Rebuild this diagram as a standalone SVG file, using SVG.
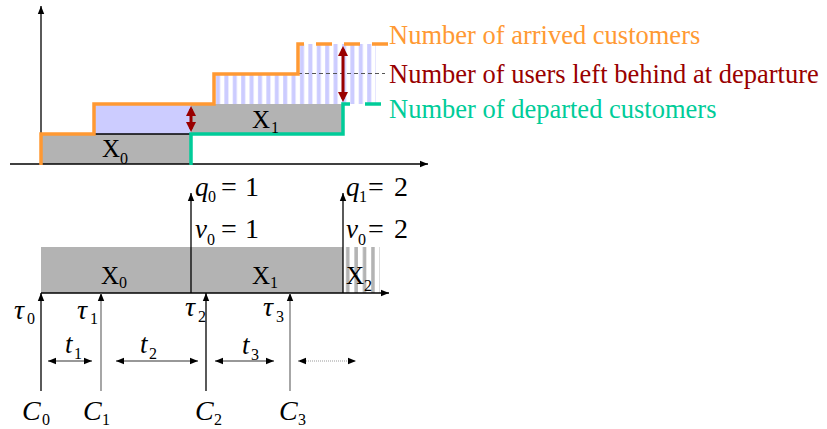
<svg xmlns="http://www.w3.org/2000/svg" width="827" height="429" viewBox="0 0 827 429">
<style>
text{font-family:"Liberation Serif","Times New Roman",serif;font-size:25px;fill:#000}
.lbl{font-size:26.5px}
.it{font-style:italic;font-size:27px}
.tau{font-style:italic;font-size:28px}
.num{font-size:28px}
.sub{font-size:16px}
.big{font-size:28px}
.ax{stroke:#000;stroke-width:1.3;fill:none}
.gray{fill:#b3b3b3}
.or{stroke:#ff9933;stroke-width:3.5;fill:none}
.gr{stroke:#00cc99;stroke-width:3.5;fill:none}
.red{stroke:#990000;stroke-width:3;fill:none}
</style>
<defs>
<marker id="ah" viewBox="0 0 10 10" refX="10" refY="5" markerWidth="8" markerHeight="8" markerUnits="userSpaceOnUse" orient="auto-start-reverse"><path d="M0,1 L10,5 L0,9 z" fill="#000"/></marker>
<marker id="rh" viewBox="0 0 10 10" refX="7" refY="5" markerWidth="10" markerHeight="11" markerUnits="userSpaceOnUse" orient="auto-start-reverse"><path d="M0,0 L10,5 L0,10 z" fill="#990000"/></marker>
<pattern id="blueStripe" patternUnits="userSpaceOnUse" x="214" y="0" width="8.4" height="10"><rect x="2" y="0" width="4" height="10" fill="#ccccff"/></pattern>
<pattern id="grayStripe" patternUnits="userSpaceOnUse" x="343" y="0" width="8.4" height="10"><rect x="3" y="0" width="3.5" height="10" fill="#b3b3b3"/></pattern>
</defs>

<g id="top-chart">
<rect x="94" y="104" width="97" height="30" fill="#ccccff"/>
<rect x="214" y="74" width="84" height="30" fill="url(#blueStripe)"/>
<rect x="298" y="44" width="78" height="60" fill="url(#blueStripe)"/>
<rect class="gray" x="41" y="134" width="150" height="30"/>
<rect class="gray" x="191" y="104" width="152" height="30"/>
<line x1="94" y1="134" x2="191" y2="134" stroke="#000" stroke-width="1.3"/>
<line x1="298" y1="73.5" x2="385" y2="73.5" stroke="#555" stroke-width="1" stroke-dasharray="4 3"/>
</g>

<g id="connectors">
<line class="ax" x1="41" y1="164" x2="41" y2="6" marker-end="url(#ah)"/>
<line class="ax" x1="10" y1="164" x2="428" y2="164" marker-end="url(#ah)"/>
<path class="or" d="M41,165 V134 H94 V104 H214 V74 H298 V44 H304"/>
<line class="or" x1="316" y1="44" x2="388" y2="44" stroke-dasharray="16 12"/>
<path class="gr" d="M191,165 V134 H343 V104 H350"/>
<line class="gr" x1="365" y1="104" x2="381" y2="104"/>
<line class="red" x1="191" y1="109" x2="191" y2="129" marker-start="url(#rh)" marker-end="url(#rh)"/>
<line class="red" x1="343" y1="49" x2="343" y2="99" marker-start="url(#rh)" marker-end="url(#rh)"/>
</g>

<g id="legend">
<text class="lbl" x="389" y="44" style="fill:#ff9933">Number of arrived customers</text>
<text class="lbl" x="389" y="83" style="fill:#990000">Number of users left behind at departure</text>
<text class="lbl" x="389" y="118" style="fill:#00cc99">Number of departed customers</text>
</g>

<g id="top-labels">
<text x="102" y="157">X</text><text class="sub" x="120" y="164">0</text>
<text x="252" y="128">X</text><text class="sub" x="271" y="133">1</text>
</g>

<g id="bottom-band">
<rect class="gray" x="41" y="247" width="302" height="46"/>
<rect x="343" y="247" width="37" height="46" fill="url(#grayStripe)"/>
<text x="101" y="284">X</text><text class="sub" x="119" y="288">0</text>
<text x="252" y="284">X</text><text class="sub" x="270" y="288">1</text>
<text x="346" y="284">X</text><text class="sub" x="364" y="291">2</text>
</g>

<g id="bottom-connectors">
<line class="ax" x1="41" y1="293" x2="389" y2="293" marker-end="url(#ah)"/>
<line class="ax" x1="191" y1="293" x2="191" y2="193" marker-end="url(#ah)"/>
<line class="ax" x1="343" y1="293" x2="343" y2="193" marker-end="url(#ah)"/>
<line class="ax" x1="41" y1="391" x2="41" y2="293" marker-end="url(#ah)"/>
<line x1="101" y1="391" x2="101" y2="293" stroke="#777" stroke-width="1.3" marker-end="url(#ah)"/>
<line class="ax" x1="206" y1="391" x2="206" y2="293" marker-end="url(#ah)"/>
<line x1="290" y1="391" x2="290" y2="293" stroke="#777" stroke-width="1.3" marker-end="url(#ah)"/>
<line x1="48" y1="361" x2="92" y2="361" stroke="#333" stroke-width="1.2" marker-start="url(#ah)" marker-end="url(#ah)"/>
<line x1="116" y1="361" x2="198" y2="361" stroke="#333" stroke-width="1.2" marker-start="url(#ah)" marker-end="url(#ah)"/>
<line x1="215" y1="361" x2="274" y2="361" stroke="#333" stroke-width="1.2" marker-start="url(#ah)" marker-end="url(#ah)"/>
<line x1="298" y1="361" x2="356" y2="361" stroke="#999" stroke-width="1.2" stroke-dasharray="1 1" marker-start="url(#ah)" marker-end="url(#ah)"/>
</g>

<g id="q-v-labels">
<text class="it" x="195" y="196">q</text><text class="sub" x="208" y="202">0</text><text class="num" x="221" y="196">=</text><text class="num" x="245" y="196">1</text>
<text class="it" x="195" y="238">v</text><text class="sub" x="207" y="245">0</text><text class="num" x="221" y="238">=</text><text class="num" x="245" y="238">1</text>
<text class="it" x="346" y="196">q</text><text class="sub" x="359" y="202">1</text><text class="num" x="368" y="196">=</text><text class="num" x="394" y="196">2</text>
<text class="it" x="346" y="238">v</text><text class="sub" x="358" y="245">0</text><text class="num" x="368" y="238">=</text><text class="num" x="394" y="238">2</text>
</g>

<g id="tau-labels">
<text class="tau" x="14" y="319">τ</text><text class="sub" x="27" y="324">0</text>
<text class="tau" x="77" y="319">τ</text><text class="sub" x="90" y="324">1</text>
<text class="tau" x="185" y="316">τ</text><text class="sub" x="198" y="322">2</text>
<text class="tau" x="263" y="316">τ</text><text class="sub" x="276" y="322">3</text>
</g>

<g id="t-labels">
<text class="it" x="65" y="353">t</text><text class="sub" x="74" y="359">1</text>
<text class="it" x="140" y="353">t</text><text class="sub" x="149" y="359">2</text>
<text class="it" x="242" y="354">t</text><text class="sub" x="251" y="360">3</text>
</g>

<g id="c-labels">
<text class="it big" x="22" y="420">C</text><text class="sub" x="42" y="425">0</text>
<text class="it big" x="83" y="420">C</text><text class="sub" x="102" y="425">1</text>
<text class="it big" x="195" y="420">C</text><text class="sub" x="214" y="425">2</text>
<text class="it big" x="279" y="420">C</text><text class="sub" x="298" y="425">3</text>
</g>
</svg>
